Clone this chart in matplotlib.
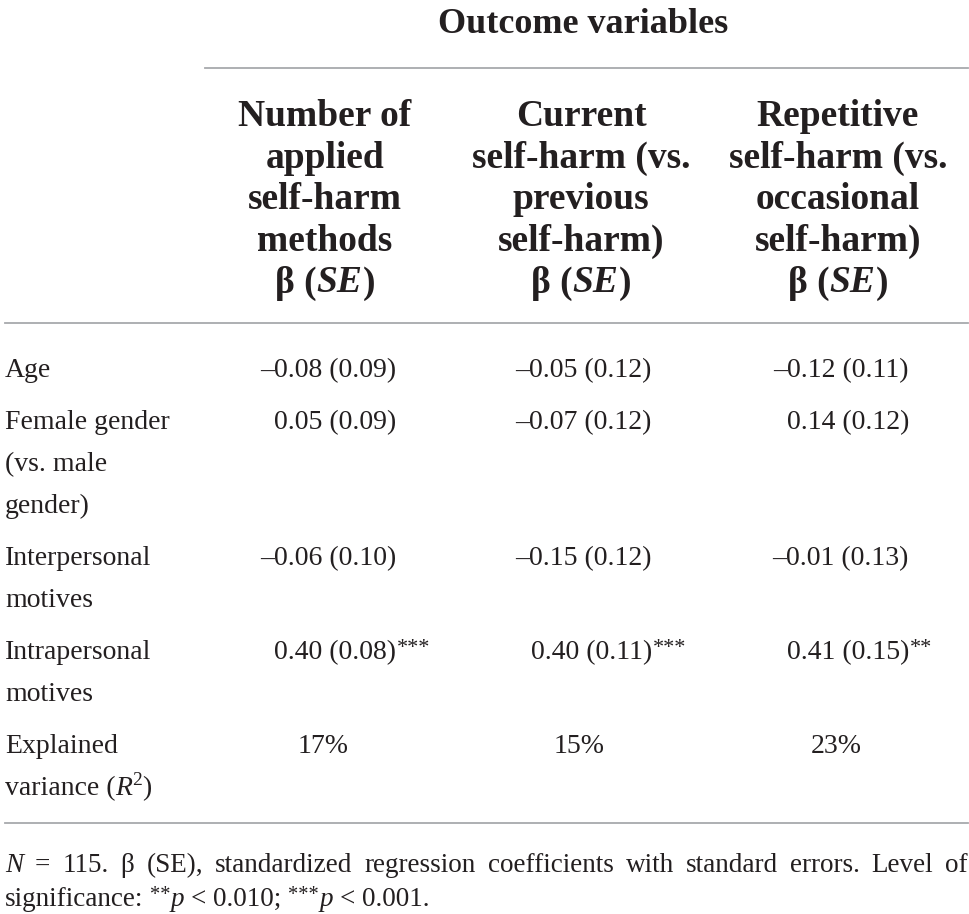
import matplotlib
matplotlib.use("Agg")
import matplotlib.pyplot as plt

# table content
spanner = "Outcome variables"
outcomes = [
    ["Number of", "applied", "self-harm", "methods"],
    ["Current", "self-harm (vs.", "previous", "self-harm)"],
    ["Repetitive", "self-harm (vs.", "occasional", "self-harm)"],
]
predictors = [
    ["Age"],
    ["Female gender", "(vs. male", "gender)"],
    ["Interpersonal", "motives"],
    ["Intrapersonal", "motives"],
]
beta = [[-0.08, -0.05, -0.12],
        [0.05, -0.07, 0.14],
        [-0.06, -0.15, -0.01],
        [0.40, 0.40, 0.41]]
se = [[0.09, 0.12, 0.11],
      [0.09, 0.12, 0.12],
      [0.10, 0.12, 0.13],
      [0.08, 0.11, 0.15]]
stars = [["", "", ""],
         ["", "", ""],
         ["", "", ""],
         ["***", "***", "**"]]
r2_pct = [17, 15, 23]
n_obs = 115

INK = "#231f20"
RULE = "#a7a9ac"
FAM = "Liberation Serif"
BODY = 20
HEAD = 27
SPAN = 26
FOOT = 19.5

fig = plt.figure(figsize=(9.7, 9.14), dpi=100)
ax = fig.add_axes([0, 0, 1, 1])
ax.set_xlim(0, 970)
ax.set_ylim(914, 0)
ax.axis("off")
fig.canvas.draw()
renderer = fig.canvas.get_renderer()

STY = {
    "rm": dict(fontweight="normal", fontstyle="normal"),
    "it": dict(fontweight="normal", fontstyle="italic"),
    "bf": dict(fontweight="bold", fontstyle="normal"),
    "bfit": dict(fontweight="bold", fontstyle="italic"),
}


def kw(style, size, ha="left"):
    d = dict(family=FAM, fontsize=size, color=INK, va="baseline", ha=ha)
    d.update(STY[style])
    return d


def width(txt, style, size):
    t = ax.text(0, 0, txt, **kw(style, size))
    w = t.get_window_extent(renderer).width
    t.remove()
    return w


def space(style, size):
    return width("a a", style, size) - width("aa", style, size)


# a run is (text, style, scale, raise in px)
def R(txt, style="rm", scale=1.0, up=0.0):
    return (txt, style, scale, up)


def runs_width(runs, size):
    return sum(width(t, s, size * sc) for t, s, sc, up in runs)


def draw_runs(x, y, runs, size, ha="left"):
    w = runs_width(runs, size)
    if ha == "center":
        x -= w / 2
    elif ha == "right":
        x -= w
    for t, s, sc, up in runs:
        ax.text(x, y - up, t, **kw(s, size * sc))
        x += width(t, s, size * sc)
    return x


col_x = [325, 581, 838]
num_off = 71
left = 5
right = 968

# spanner + rules
ax.text(col_x[1] + 2, 33, spanner, **kw("bf", SPAN, "center"))
ax.plot([205, right], [68, 68], color=RULE, lw=1.3)
ax.plot([left, right], [323, 323], color=RULE, lw=1.3)
ax.plot([left, right], [823, 823], color=RULE, lw=1.3)

# column headers
for j, lines in enumerate(outcomes):
    for k, line in enumerate(lines):
        ax.text(col_x[j], 126 + 41.6 * k, line, **kw("bf", HEAD, "center"))
    draw_runs(col_x[j], 126 + 41.6 * len(lines),
              [R("β (", "bf"), R("SE", "bfit"), R(")", "bf")], HEAD, ha="center")

# body rows
y = 377
for i, lines in enumerate(predictors):
    for k, line in enumerate(lines):
        ax.text(left, y + 42 * k, line, **kw("rm", BODY))
    for j in range(3):
        txt = f"{beta[i][j]:.2f} ({se[i][j]:.2f})".replace("-", "–")
        xe = col_x[j] + num_off
        ax.text(xe, y, txt, **kw("rm", BODY, "right"))
        if stars[i][j]:
            draw_runs(xe + 1, y, [R(stars[i][j], "rm", 0.8, 6)], BODY)
    y += 42 * (len(lines) - 1) + 52

# explained variance row
ax.text(left, y, "Explained", **kw("rm", BODY))
draw_runs(left, y + 42, [R("variance ("), R("R", "it"), R("2", "rm", 0.7, 10), R(")")], BODY)
for j in range(3):
    ax.text(col_x[j] - 2, y, f"{r2_pct[j]}%", **kw("rm", BODY, "center"))

# footnote, first line justified
words = [[R("N", "it")], [R("=")], [R(f"{n_obs}.")], [R("β")], [R("(SE),")]]
words += [[R(w)] for w in
          "standardized regression coefficients with standard errors. Level of".split()]
ws = [runs_width(w, FOOT) for w in words]
gap = (right - left - sum(ws)) / (len(words) - 1)
x = left
for w, wd in zip(words, ws):
    draw_runs(x, 872, w, FOOT)
    x += wd + gap

sp = space("rm", FOOT)
line2 = [[R("significance:")],
         [R("**", "rm", 0.75, 6), R("p", "it")], [R("<")], [R("0.010;")],
         [R("***", "rm", 0.75, 6), R("p", "it")], [R("<")], [R("0.001.")]]
x = left
for w in line2:
    x = draw_runs(x, 906, w, FOOT) + sp

fig.savefig("out.png", dpi=100, facecolor="white")
